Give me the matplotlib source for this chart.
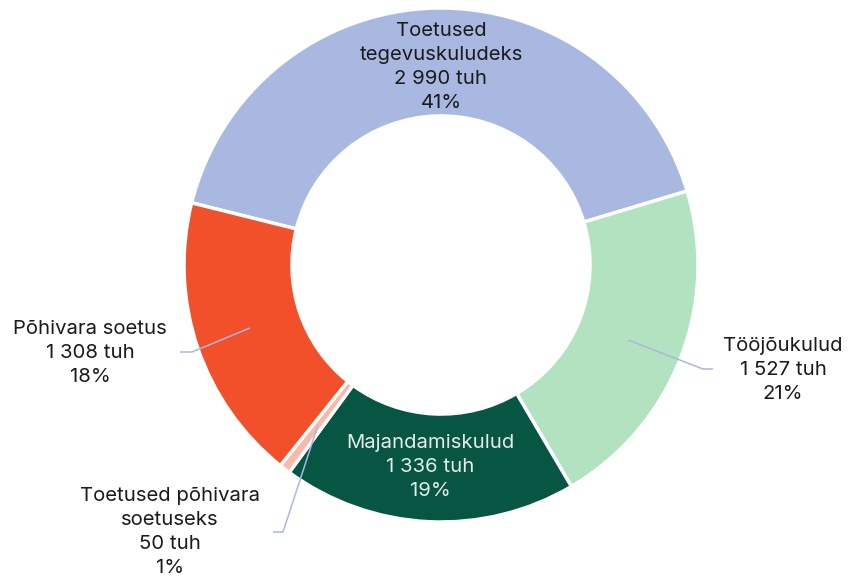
import matplotlib
matplotlib.use("Agg")
import matplotlib.pyplot as plt

plt.rcParams['font.family'] = ['Inter', 'DejaVu Sans']

categories = ["Toetused\ntegevuskuludeks", "Tööjõukulud", "Majandamiskulud",
              "Toetused põhivara\nsoetuseks", "Põhivara soetus"]
values = [2990, 1527, 1336, 50, 1308]
colors = ["#A9B8E0", "#B3E2C0", "#075643", "#F8B9A8", "#F2502A"]

W, H = 848, 579
fig = plt.figure(figsize=(W / 100, H / 100), dpi=100)
cx, cy, R = 441, 265, 257
ax = fig.add_axes([(cx - R) / W, (H - cy - R) / H, 2 * R / W, 2 * R / H])

ax.pie(values, colors=colors, startangle=166, counterclock=False, radius=1,
       wedgeprops=dict(width=0.42, edgecolor='white', linewidth=2.5))
ax.set_xlim(-1, 1)
ax.set_ylim(-1, 1)
ax.set_aspect('equal')
ax.axis('off')

total = sum(values)


def fmt(v):
    return f"{v:,}".replace(",", " ")


def px(x, y):
    return ((x - cx) / R, (cy - y) / R)


texts = [f"{c}\n{fmt(v)} tuh\n{round(v / total * 100)}%" for c, v in zip(categories, values)]

# label pixel positions (centers) and leader lines
label_pos = [(441, 67), (783, 370), (430, 467), (170, 532), (90, 353)]
text_colors = ["#1a1a1a", "#1a1a1a", "#e6ece9", "#1a1a1a", "#1a1a1a"]
leaders = {
    1: [(628, 340), (703, 369), (713, 369)],
    3: [(318, 425), (283, 532), (273, 532)],
    4: [(250, 328), (192, 352), (180, 352)],
}

for i, t in enumerate(texts):
    x, y = px(*label_pos[i])
    ax.text(x, y, t, ha='center', va='center', fontsize=14.6, color=text_colors[i],
            linespacing=1.42, clip_on=False)
    if i in leaders:
        pts = [px(*p) for p in leaders[i]]
        ax.plot([p[0] for p in pts], [p[1] for p in pts], color="#A9B8E0", lw=1.1,
                clip_on=False, solid_capstyle='butt')

fig.savefig("out.png", dpi=100)
